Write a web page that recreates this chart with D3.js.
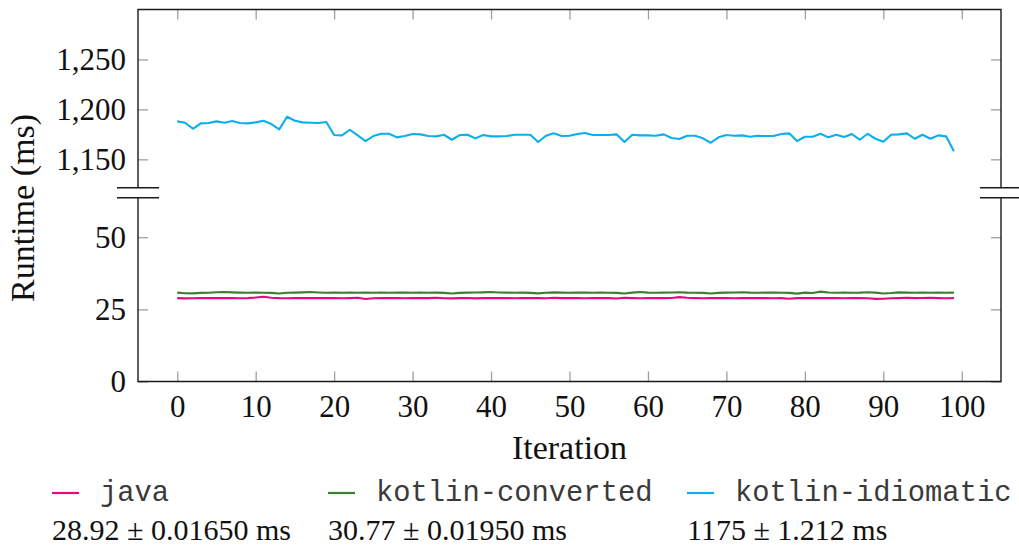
<!DOCTYPE html>
<html>
<head>
<meta charset="utf-8">
<script src="https://cdn.jsdelivr.net/npm/d3@7"></script>
<style>
  html, body { margin: 0; padding: 0; background: #fff; }
  svg { display: block; }
</style>
</head>
<body>
<svg id="chart" width="1019" height="547"></svg>
<script>
// ---- data ----
const seriesNames = ["java", "kotlin-converted", "kotlin-idiomatic"];
const seriesColors = ["#e6097f", "#3c7e32", "#0caeee"];
const seriesStats = ["28.92 \u00b1 0.01650 ms", "30.77 \u00b1 0.01950 ms", "1175 \u00b1 1.212 ms"];

const javaValues = [
  28.9, 28.8, 28.85, 28.9, 28.9, 28.95, 28.9, 28.95, 28.85, 28.9,
  29.1, 29.4, 29.05, 28.9, 28.85, 28.9, 28.9, 28.95, 28.9, 28.95,
  28.9, 28.85, 28.9, 29.0, 28.6, 28.85, 28.9, 28.95, 28.9, 28.85,
  28.9, 28.95, 28.9, 29.0, 28.85, 28.8, 28.9, 28.95, 28.8, 28.9,
  28.95, 28.9, 28.9, 28.85, 28.9, 28.95, 28.9, 28.85, 29.0, 28.9,
  28.95, 28.9, 28.85, 28.9, 28.95, 28.9, 28.75, 29.0, 28.9, 28.85,
  28.9, 28.95, 28.9, 28.95, 29.25, 29.0, 28.9, 28.85, 28.9, 28.95,
  28.9, 28.85, 28.9, 28.95, 28.9, 28.9, 28.85, 28.9, 28.7, 28.9,
  28.95, 28.9, 28.9, 28.95, 28.9, 28.85, 28.9, 28.95, 28.85, 28.65,
  28.7, 28.85, 28.9, 29.0, 28.9, 28.95, 29.0, 28.9, 28.85, 28.9
];
const kotlinConvertedValues = [
  30.8, 30.6, 30.55, 30.7, 30.75, 30.95, 31.0, 30.9, 30.8, 30.75,
  30.8, 30.75, 30.7, 30.5, 30.75, 30.8, 30.9, 31.0, 30.85, 30.75,
  30.8, 30.75, 30.8, 30.75, 30.8, 30.75, 30.8, 30.75, 30.8, 30.85,
  30.75, 30.8, 30.75, 30.8, 30.7, 30.5, 30.7, 30.8, 30.85, 30.9,
  31.0, 30.85, 30.8, 30.75, 30.8, 30.7, 30.55, 30.75, 30.9, 30.8,
  30.75, 30.8, 30.8, 30.75, 30.8, 30.75, 30.7, 30.5, 30.8, 31.0,
  30.8, 30.75, 30.8, 30.85, 30.95, 30.8, 30.75, 30.7, 30.5, 30.7,
  30.8, 30.85, 30.95, 30.8, 30.75, 30.8, 30.8, 30.75, 30.7, 30.45,
  30.8, 30.65, 31.15, 30.85, 30.75, 30.8, 30.75, 30.8, 30.95, 30.8,
  30.5, 30.65, 30.9, 30.8, 30.75, 30.8, 30.75, 30.8, 30.75, 30.8
];
const kotlinIdiomaticValues = [
  1188, 1186.6, 1180.6, 1186, 1186.3, 1188, 1186.6, 1188.3, 1186.3, 1186,
  1187, 1188.6, 1185.3, 1180, 1192.6, 1188.6, 1187, 1186.6, 1186.3, 1187.3,
  1174.3, 1174, 1179.6, 1174, 1168.3, 1173.3, 1175.6, 1175.6, 1172, 1173.3,
  1175.3, 1175, 1173.3, 1173, 1174.6, 1169.6, 1174.3, 1174.6, 1171, 1174.3,
  1173, 1173, 1173.3, 1174.6, 1174.6, 1174.6, 1167.3, 1173.6, 1176, 1173.3,
  1173.6, 1175.3, 1176.3, 1174.3, 1174.3, 1174.3, 1175, 1167.3, 1174.6, 1174,
  1174, 1173.6, 1175, 1171.3, 1170.3, 1173.6, 1173.6, 1171, 1166.6, 1172,
  1174.3, 1173.6, 1174, 1172.6, 1173.6, 1173.3, 1173.3, 1175.3, 1176, 1168.3,
  1172.6, 1172.6, 1175.6, 1172, 1174.6, 1172.3, 1175.3, 1169.6, 1175.6, 1170.6,
  1167.6, 1174.6, 1175, 1176, 1170.6, 1174.6, 1170.6, 1174, 1173, 1158
];
const iterations = d3.range(kotlinIdiomaticValues.length);

const xTicks = [0, 10, 20, 30, 40, 50, 60, 70, 80, 90, 100];
const yTicksUpper = [1150, 1200, 1250];
const yTicksLower = [0, 25, 50];

// ---- layout ----
const svg = d3.select("#chart");
const L = 138, R = 1001, T = 9.5, B = 381.5;
const breakTop = 187.7, breakBottom = 197.7;

const x = d3.scaleLinear().domain([-5, 105]).range([L, R]);
const yUp = d3.scaleLinear().domain([1121.6, 1300]).range([breakTop, T]);
const yLow = d3.scaleLinear().domain([0, 63.7]).range([B, breakBottom]);

const serif = "'Liberation Serif', 'Times New Roman', serif";
const mono = "'Liberation Mono', 'Courier New', monospace";

const tickColor = "#a0a0a0";
const tickLen = 10;

// x ticks (bottom and top, inward)
const xAxisB = d3.axisBottom(x).tickValues(xTicks).tickSizeInner(-tickLen).tickSizeOuter(0).tickPadding(13);
const gxB = svg.append("g").attr("transform", `translate(0,${B})`).call(xAxisB);
gxB.select(".domain").remove();
gxB.selectAll(".tick line").attr("stroke", tickColor).attr("stroke-width", 1.3);
gxB.selectAll(".tick text").attr("font-family", serif).attr("font-size", 31).attr("fill", "#111");

const xAxisT = d3.axisTop(x).tickValues(xTicks).tickSizeInner(-tickLen).tickSizeOuter(0).tickFormat("");
const gxT = svg.append("g").attr("transform", `translate(0,${T})`).call(xAxisT);
gxT.select(".domain").remove();
gxT.selectAll(".tick line").attr("stroke", tickColor).attr("stroke-width", 1.3);

// y ticks left/right
const fmt = d3.format(",");
function yAxes(scale, ticks) {
  const gl = svg.append("g").attr("transform", `translate(${L},0)`)
    .call(d3.axisLeft(scale).tickValues(ticks).tickSizeInner(-tickLen).tickSizeOuter(0).tickPadding(12).tickFormat(fmt));
  gl.select(".domain").remove();
  gl.selectAll(".tick line").attr("stroke", tickColor).attr("stroke-width", 1.3);
  gl.selectAll(".tick text").attr("font-family", serif).attr("font-size", 31).attr("fill", "#111");
  const gr = svg.append("g").attr("transform", `translate(${R},0)`)
    .call(d3.axisRight(scale).tickValues(ticks).tickSizeInner(-tickLen).tickSizeOuter(0).tickFormat(""));
  gr.select(".domain").remove();
  gr.selectAll(".tick line").attr("stroke", tickColor).attr("stroke-width", 1.3);
}
yAxes(yUp, yTicksUpper);
yAxes(yLow, yTicksLower);

// frame
const frameColor = "#1a1a1a";
const fr = svg.append("g").attr("stroke", frameColor).attr("stroke-width", 1.4).attr("fill", "none");
fr.append("path").attr("d", `M${L},${breakTop}V${T}H${R}V${breakTop}`);
fr.append("path").attr("d", `M${L},${breakBottom}V${B}H${R}V${breakBottom}`);
// break marks
[L, R].forEach(px => {
  [breakTop, breakBottom].forEach(py => {
    fr.append("line").attr("x1", px - 21).attr("x2", px + 21).attr("y1", py).attr("y2", py);
  });
});

// series lines
const seriesData = [javaValues, kotlinConvertedValues, kotlinIdiomaticValues];
const seriesScale = [yLow, yLow, yUp];
seriesData.forEach((vals, k) => {
  const line = d3.line().x((d, i) => x(iterations[i])).y(d => seriesScale[k](d));
  svg.append("path").datum(vals)
    .attr("fill", "none").attr("stroke", seriesColors[k])
    .attr("stroke-width", 2.1).attr("stroke-linejoin", "round")
    .attr("d", line);
});

// axis labels
svg.append("text").attr("x", (L + R) / 2).attr("y", 459)
  .attr("text-anchor", "middle").attr("font-family", serif).attr("font-size", 34).attr("fill", "#111")
  .text("Iteration");
svg.append("text").attr("transform", `translate(34,208) rotate(-90)`)
  .attr("text-anchor", "middle").attr("font-family", serif).attr("font-size", 34).attr("fill", "#111")
  .text("Runtime (ms)");

// legend
const legendCols = [52, 328, 687];
const lg = svg.append("g");
seriesNames.forEach((name, k) => {
  const cx = legendCols[k];
  lg.append("line").attr("x1", cx).attr("x2", cx + 27).attr("y1", 493).attr("y2", 493)
    .attr("stroke", seriesColors[k]).attr("stroke-width", 2.2);
  lg.append("text").attr("x", cx + 48).attr("y", 501)
    .attr("font-family", mono).attr("font-size", 28.8).attr("fill", "#3a3a3a")
    .text(name);
  lg.append("text").attr("x", cx).attr("y", 540)
    .attr("font-family", serif).attr("font-size", 30).attr("fill", "#111")
    .text(seriesStats[k]);
});
</script>
</body>
</html>
